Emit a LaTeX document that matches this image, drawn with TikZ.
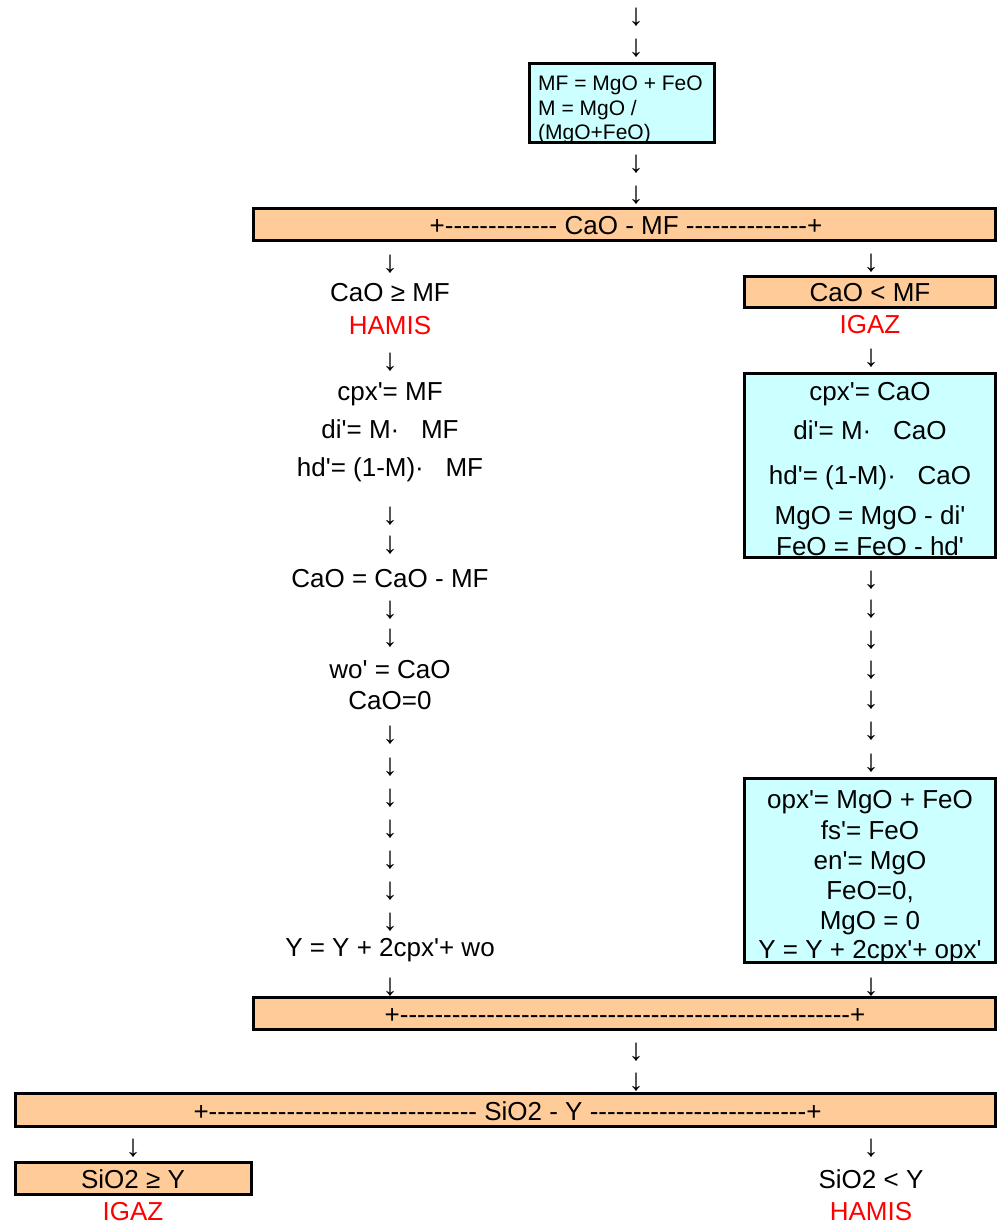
\documentclass[tikz,border=0pt]{standalone}
\usepackage{fontspec}
\setmainfont{Liberation Sans}[Ligatures=TeXOff]
\definecolor{boxorange}{RGB}{255,204,153}
\definecolor{boxcyan}{RGB}{204,255,255}
\definecolor{hred}{RGB}{255,0,0}
\tikzset{
  txt/.style={font=\fontsize{26}{31}\selectfont, inner sep=0pt, text height=18.6pt, text depth=0pt, anchor=center},
  smalltxt/.style={font=\fontsize{21}{25}\selectfont, inner sep=0pt, text height=15pt, text depth=0pt, anchor=west},
  redtxt/.style={txt, text=hred},
  dnarrow/.style={font=\fontsize{31}{35}\selectfont, inner sep=0pt, anchor=center},
  obox/.style={draw=black, fill=boxorange, line width=3pt, inner sep=0pt},
  cbox/.style={draw=black, fill=boxcyan, line width=3pt, inner sep=0pt},
}
\begin{document}
\begin{tikzpicture}[x=1pt,y=-1pt]
\useasboundingbox (0,0) rectangle (1001,1226);
% top
\node[dnarrow] (a1) at (636,17) {↓};
\node[dnarrow] (a2) at (636,48) {↓};
\node[cbox, minimum width=185pt, minimum height=79pt] (b1) at (622,103) {};
\node[smalltxt] (b1l1) at (538,82.5) {MF = MgO + FeO};
\node[smalltxt] (b1l2) at (538,107.5) {M = MgO /};
\node[smalltxt] (b1l3) at (538,132) {(MgO+FeO)};
\node[dnarrow] (a3) at (636,164) {↓};
\node[dnarrow] (a4) at (636,195) {↓};
\node[obox, minimum width=742pt, minimum height=32pt] (bar1) at (624.5,224.5) {};
\node[txt] (bar1t) at (626,225) {+------------- CaO - MF --------------+};
% left column
\node[dnarrow] (l1) at (390,264) {↓};
\node[txt] (l2) at (390,292) {CaO ≥ MF};
\node[redtxt] (l3) at (390,325.5) {HAMIS};
\node[dnarrow] (l4) at (390,362) {↓};
\node[txt] (l5) at (390,391) {cpx'= MF};
\node[txt] (l6) at (390,429) {di'= M·\ \ \ MF};
\node[txt] (l7) at (390,467.5) {hd'= (1-M)·\ \ \ MF};
\node[dnarrow] (l8) at (390,516) {↓};
\node[dnarrow] (l9) at (390,545) {↓};
\node[txt] (l10) at (390,578) {CaO = CaO - MF};
\node[dnarrow] (l11) at (390,610) {↓};
\node[dnarrow] (l12) at (390,638) {↓};
\node[txt] (l13) at (390,669) {wo' = CaO};
\node[txt] (l14) at (390,700) {CaO=0};
\node[dnarrow] (l15) at (390,735) {↓};
\node[dnarrow] (l16) at (390,767) {↓};
\node[dnarrow] (l17) at (390,798) {↓};
\node[dnarrow] (l18) at (390,829) {↓};
\node[dnarrow] (l19) at (390,860) {↓};
\node[dnarrow] (l20) at (390,891) {↓};
\node[dnarrow] (l21) at (390,922) {↓};
\node[txt] (l22) at (390,947) {Y = Y + 2cpx'+ wo};
\node[dnarrow] (l23) at (390,987) {↓};
% right column
\node[dnarrow] (r1) at (871,263) {↓};
\node[obox, minimum width=251pt, minimum height=31pt] (rb1) at (870,291.5) {};
\node[txt] (r2) at (870,292) {CaO < MF};
\node[redtxt] (r3) at (870,324) {IGAZ};
\node[dnarrow] (r4) at (871,358) {↓};
\node[cbox, minimum width=251pt, minimum height=184pt] (rb2) at (870,465.5) {};
\node[txt] (r5) at (870,391.5) {cpx'= CaO};
\node[txt] (r6) at (870,430) {di'= M·\ \ \ CaO};
\node[txt] (r7) at (870,475) {hd'= (1-M)·\ \ \ CaO};
\node[txt] (r8) at (870,515) {MgO = MgO - di'};
\node[txt] (r9) at (870,546) {FeO = FeO - hd'};
\node[dnarrow] (r10) at (871,580) {↓};
\node[dnarrow] (r11) at (871,609) {↓};
\node[dnarrow] (r12) at (871,640) {↓};
\node[dnarrow] (r13) at (871,670) {↓};
\node[dnarrow] (r14) at (871,700) {↓};
\node[dnarrow] (r15) at (871,731) {↓};
\node[dnarrow] (r16) at (871,763) {↓};
\node[cbox, minimum width=251pt, minimum height=184pt] (rb3) at (870,870) {};
\node[txt] (r17) at (870,799) {opx'= MgO + FeO};
\node[txt] (r18) at (870,830) {fs'= FeO};
\node[txt] (r19) at (870,860) {en'= MgO};
\node[txt] (r20) at (870,890) {FeO=0,};
\node[txt] (r21) at (870,920) {MgO = 0};
\node[txt] (r22) at (870,949.5) {Y = Y + 2cpx'+ opx'};
\node[dnarrow] (r23) at (871,987) {↓};
% bar 2
\node[obox, minimum width=742pt, minimum height=32pt] (bar2) at (624.5,1013.5) {};
\node[txt] (bar2t) at (625,1014) {+----------------------------------------------------+};
\node[dnarrow] (c1) at (636,1052) {↓};
\node[dnarrow] (c2) at (636,1082) {↓};
% bar 3
\node[obox, minimum width=980pt, minimum height=33pt] (bar3) at (505.5,1110) {};
\node[txt] (bar3t) at (507.5,1111) {+------------------------------- SiO2 - Y -------------------------+};
% bottom
\node[dnarrow] (d1) at (133,1148) {↓};
\node[obox, minimum width=236pt, minimum height=32pt] (bb1) at (133,1178.5) {};
\node[txt] (d2) at (133,1179) {SiO2 ≥ Y};
\node[redtxt] (d3) at (133,1211.5) {IGAZ};
\node[dnarrow] (e1) at (871,1148) {↓};
\node[txt] (e2) at (871,1179) {SiO2 < Y};
\node[redtxt] (e3) at (871,1211) {HAMIS};
\end{tikzpicture}
\end{document}
